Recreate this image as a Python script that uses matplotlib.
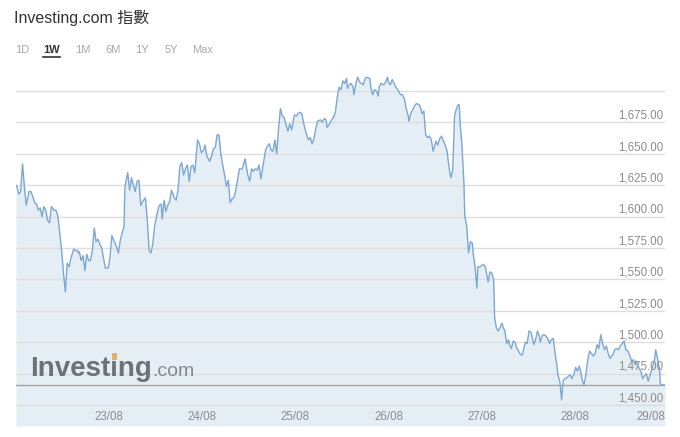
import numpy as np
import matplotlib
matplotlib.use("Agg")
import matplotlib.pyplot as plt
from matplotlib.patches import Rectangle
from matplotlib.transforms import blended_transform_factory

# time in days since 22/08 00:00, price of the index
times = [
    0.00, 0.01, 0.03, 0.05, 0.07, 0.09, 0.11, 0.14, 0.16, 0.18, 0.20, 0.22, 0.24, 0.26, 0.28,
    0.30, 0.32, 0.34, 0.36, 0.38, 0.41, 0.43, 0.45, 0.47, 0.49, 0.51, 0.53, 0.55, 0.57, 0.59,
    0.62, 0.64, 0.66, 0.67, 0.68, 0.70, 0.72, 0.74, 0.76, 0.78, 0.80, 0.82, 0.84, 0.86, 0.88,
    0.90, 0.92, 0.94, 0.96, 0.99, 1.01, 1.03, 1.05, 1.08, 1.10, 1.12, 1.14, 1.16,
    1.17, 1.20, 1.22, 1.24, 1.26, 1.28, 1.30, 1.32, 1.34, 1.37, 1.39, 1.41, 1.43, 1.45, 1.47,
    1.49, 1.52, 1.54, 1.56, 1.57, 1.59, 1.61, 1.63, 1.65, 1.67, 1.70, 1.72, 1.74, 1.76, 1.78,
    1.80, 1.82, 1.84, 1.86, 1.88, 1.90, 1.92, 1.95, 1.97, 1.99, 2.01, 2.03, 2.05, 2.08, 2.10,
    2.12, 2.14, 2.16, 2.18, 2.20, 2.22, 2.24, 2.26, 2.28, 2.30, 2.32, 2.34,
    2.36, 2.40, 2.43, 2.46, 2.49, 2.51, 2.53, 2.55, 2.57, 2.59, 2.61, 2.63, 2.66, 2.68, 2.70,
    2.72, 2.74, 2.76, 2.78, 2.80, 2.82, 2.84, 2.86, 2.88, 2.90, 2.92, 2.94, 2.96, 2.99, 3.01,
    3.03, 3.05, 3.07, 3.09, 3.11, 3.14, 3.16, 3.18, 3.20, 3.22, 3.24, 3.27, 3.29, 3.31, 3.33,
    3.34, 3.37, 3.39, 3.41, 3.43, 3.45, 3.47, 3.49, 3.51,
    3.53, 3.55, 3.56, 3.58, 3.60, 3.62, 3.63, 3.65, 3.67, 3.69, 3.71, 3.73, 3.75, 3.77, 3.80,
    3.81, 3.83, 3.85, 3.87, 3.89, 3.90, 3.92, 3.95, 3.97, 3.99, 4.00, 4.02, 4.04, 4.06, 4.08,
    4.10, 4.13, 4.15, 4.17, 4.19, 4.21, 4.22, 4.24, 4.26, 4.28, 4.30, 4.33, 4.34, 4.36, 4.38,
    4.40, 4.42, 4.44, 4.46, 4.48, 4.51, 4.53, 4.55, 4.57, 4.59, 4.61, 4.63, 4.64, 4.66, 4.67,
    4.69, 4.71, 4.73, 4.75, 4.76, 4.77, 4.79, 4.81, 4.82, 4.84, 4.86, 4.88, 4.90, 4.91, 4.93,
    4.95, 4.96, 4.98, 5.00, 5.02, 5.04, 5.05, 5.07, 5.09, 5.11, 5.13, 5.14, 5.16, 5.18, 5.20,
    5.22, 5.23, 5.25, 5.27, 5.29, 5.30, 5.32, 5.34, 5.36, 5.38,
    5.39, 5.42, 5.44, 5.45, 5.47, 5.49, 5.51, 5.53, 5.55, 5.56, 5.58, 5.60, 5.62, 5.63, 5.65,
    5.67, 5.69, 5.71, 5.73, 5.75, 5.77, 5.79, 5.81, 5.82, 5.84,
    5.86, 5.87, 5.88, 5.90, 5.92, 5.95, 5.97, 5.99, 6.01, 6.03, 6.05, 6.06, 6.08, 6.10, 6.12,
    6.14, 6.16, 6.18, 6.20, 6.22, 6.24, 6.26, 6.28, 6.30, 6.32, 6.34, 6.36, 6.38, 6.41, 6.43,
    6.45, 6.47, 6.49, 6.51, 6.53, 6.55, 6.57, 6.59, 6.61, 6.63, 6.65, 6.66, 6.68, 6.71, 6.73,
    6.75, 6.77, 6.79, 6.81, 6.84, 6.86, 6.87, 6.89, 6.91, 6.92, 6.94, 6.97,
]
prices = [
    1625, 1624, 1618, 1620, 1642, 1624, 1609, 1620, 1620, 1616, 1611, 1610, 1605, 1607, 1600,
    1608, 1605, 1597, 1595, 1608, 1605, 1605, 1600, 1587, 1573, 1555, 1540, 1563, 1560, 1567,
    1574, 1573, 1573, 1571, 1572, 1565, 1569, 1557, 1570, 1565, 1565, 1573, 1591, 1580, 1582,
    1578, 1575, 1567, 1559, 1559, 1568, 1585, 1581, 1576, 1571, 1581, 1587, 1592,
    1624, 1635, 1621, 1631, 1625, 1620, 1628, 1629, 1609, 1613, 1615, 1597, 1573, 1571, 1579,
    1593, 1604, 1609, 1610, 1598, 1613, 1604, 1609, 1612, 1621, 1615, 1613, 1621, 1640, 1643,
    1633, 1638, 1641, 1628, 1640, 1641, 1635, 1661, 1658, 1651, 1652, 1657, 1648, 1644, 1648,
    1654, 1655, 1665, 1665, 1650, 1641, 1633, 1624, 1629, 1611, 1614, 1615,
    1621, 1638, 1638, 1646, 1633, 1628, 1638, 1636, 1638, 1637, 1641, 1630, 1644, 1653, 1656,
    1658, 1653, 1652, 1661, 1650, 1670, 1686, 1680, 1679, 1673, 1668, 1674, 1669, 1681, 1680,
    1682, 1683, 1682, 1674, 1668, 1661, 1663, 1658, 1662, 1670, 1676, 1677, 1675, 1678, 1677,
    1671, 1674, 1677, 1679, 1683, 1695, 1703, 1701, 1708,
    1706, 1710, 1702, 1705, 1706, 1703, 1697, 1706, 1711, 1707, 1706, 1705, 1710, 1711, 1710,
    1703, 1697, 1701, 1700, 1696, 1703, 1706, 1705, 1707, 1711, 1707, 1705, 1709, 1706, 1703,
    1701, 1697, 1697, 1694, 1686, 1681, 1676, 1682, 1685, 1688, 1690, 1689, 1688, 1682, 1684,
    1665, 1663, 1664, 1661, 1652, 1660, 1657, 1662, 1664, 1660, 1657, 1652, 1645, 1635, 1631,
    1637, 1680, 1686, 1689, 1689, 1674, 1656, 1627, 1600, 1593, 1571, 1580, 1579, 1571, 1560,
    1543, 1560, 1560, 1561, 1562, 1560, 1556, 1548, 1556, 1555, 1550, 1520, 1511, 1509, 1512,
    1515, 1512, 1509, 1499, 1502, 1498, 1495, 1501, 1500, 1495,
    1494, 1490, 1490, 1494, 1500, 1499, 1509, 1508, 1502, 1498, 1502, 1509, 1505, 1500, 1505,
    1506, 1505, 1503, 1499, 1502, 1503, 1491, 1481, 1474, 1469,
    1454, 1465, 1470, 1471, 1472, 1474, 1471, 1474, 1480, 1477, 1481, 1478, 1470, 1466, 1474,
    1486, 1493, 1491, 1489, 1491, 1498, 1495, 1506, 1499, 1494, 1497, 1491, 1487, 1490, 1494,
    1495, 1494, 1497, 1499, 1501, 1494, 1493, 1490, 1485, 1486, 1482, 1485, 1481, 1477, 1471,
    1473, 1475, 1469, 1474, 1481, 1487, 1494, 1487, 1479, 1467, 1466, 1466,
]
prev_close = 1466

y_ticks = [1450, 1475, 1500, 1525, 1550, 1575, 1600, 1625, 1650, 1675]
grid_levels = y_ticks + [1700]
x_ticks = [1, 2, 3, 4, 5, 6, 6.97]
x_labels = ["23/08", "24/08", "25/08", "26/08", "27/08", "28/08", "29/08"]
periods = ["1D", "1W", "1M", "6M", "1Y", "5Y", "Max"]
period_x = [22, 52, 83, 113, 142, 171, 203]

times = np.array(times)
prices = np.array(prices)
assert len(times) == len(prices)

W, H = 680, 437
fig = plt.figure(figsize=(W / 100, H / 100), dpi=100)
fig.patch.set_facecolor("white")

# plot area
ax = fig.add_axes([16 / W, 1 - 426 / H, 649 / W, 356 / H])
ax.set_xlim(0, 6.97)
ax.set_ylim(1433.3, 1716.7)
ax.axis("off")

ymin = ax.get_ylim()[0]
ax.fill_between(times, prices, ymin, color="#e6eef5", lw=0, zorder=1)
for g in grid_levels:
    ax.axhline(g, color="#dddddd", lw=1, zorder=2)
ax.axhline(prev_close, color="#a3a3a3", lw=1, zorder=3)
ax.plot(times, prices, color="#7ba7d2", lw=1, zorder=4)

# y labels, right aligned, just above the grid line
tr = blended_transform_factory(ax.transAxes, ax.transData)
for v in y_ticks:
    ax.text(0.998, v + 0.6, f"{v:,.2f}", transform=tr, ha="right", va="bottom",
            fontsize=8.3, color="#8c8c8c", family="Liberation Sans", zorder=5)

# x labels inside the shaded band
trx = blended_transform_factory(ax.transData, ax.transAxes)
for i, (t, lab) in enumerate(zip(x_ticks, x_labels)):
    ha = "right" if i == len(x_ticks) - 1 else "center"
    ax.text(t, 0.025, lab, transform=trx, ha=ha, va="center",
            fontsize=8.3, color="#8c8c8c", family="Liberation Sans", zorder=5)

# watermark
fig.text(30 / W, 1 - 376 / H, "Investing", fontsize=20, fontweight="bold",
         color="#6e7278", family="Liberation Sans", va="baseline", zorder=6)
fig.text(152 / W, 1 - 376 / H, ".com", fontsize=14, color="#868a90",
         family="Liberation Sans", va="baseline", zorder=6)
fig.add_artist(Rectangle((111.5 / W, 1 - 359.5 / H), 5.5 / W, 6.5 / H,
                         transform=fig.transFigure, color="#e3b26a", lw=0, zorder=7))

# header
fig.text(14 / W, 1 - 18 / H, "Investing.com 指數", fontsize=11.5, color="#333333",
         family=["Liberation Sans", "Noto Sans CJK TC"], va="center", ha="left")

for p, px in zip(periods, period_x):
    if p == "1W":
        fig.text(px / W, 1 - 50 / H, p, fontsize=8, color="#333333", fontweight="bold",
                 family="Liberation Sans", ha="center", va="center")
    else:
        fig.text(px / W, 1 - 50 / H, p, fontsize=8, color="#a8a8a8",
                 family="Liberation Sans", ha="center", va="center")
fig.add_artist(plt.Line2D([43 / W, 60 / W], [1 - 57 / H, 1 - 57 / H], color="#333333", lw=1.2))

fig.savefig("out.png", dpi=100, facecolor="white")
